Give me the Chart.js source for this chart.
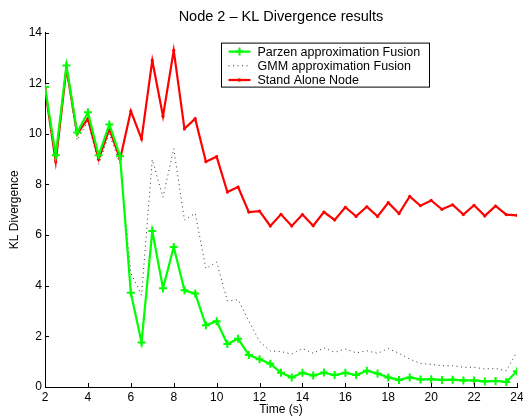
<!DOCTYPE html>
<html>
<head>
<meta charset="utf-8">
<script src="https://cdn.jsdelivr.net/npm/chart.js@4"></script>
<style>
  html, body { margin: 0; padding: 0; background: #fff; }
  #wrap { width: 523px; height: 417px; }
</style>
</head>
<body>
<div id="wrap"><canvas id="chart-kl"></canvas></div>
<script>
const FONT = "'Liberation Sans', Arial, Helvetica, sans-serif";

// tempo (s)
const times = [2, 2.5, 3, 3.5, 4, 4.5, 5, 5.5, 6, 6.5, 7, 7.5, 8, 8.5, 9, 9.5, 10, 10.5, 11, 11.5,
  12, 12.5, 13, 13.5, 14, 14.5, 15, 15.5, 16, 16.5, 17, 17.5, 18, 18.5, 19, 19.5, 20, 20.5,
  21, 21.5, 22, 22.5, 23, 23.5, 24];

const parzen = [11.85, 9.15, 12.7, 10.05, 10.85, 9.15, 10.37, 9.12, 3.72, 1.76, 6.16, 3.9, 5.53, 3.82, 3.69, 2.44, 2.6, 1.7, 1.91, 1.26,
  1.1, 0.92, 0.56, 0.38, 0.56, 0.45, 0.57, 0.47, 0.56, 0.47, 0.64, 0.53, 0.38, 0.28, 0.38, 0.3, 0.31, 0.28,
  0.29, 0.26, 0.26, 0.22, 0.24, 0.2, 0.62];

const gmm = [11.7, 8.95, 12.5, 9.75, 10.5, 8.8, 10.0, 8.8, 4.5, 3.63, 8.98, 7.5, 9.41, 6.6, 6.86, 4.68, 4.94, 3.4, 3.45, 2.6,
  1.8, 1.42, 1.4, 1.3, 1.52, 1.33, 1.55, 1.37, 1.5, 1.35, 1.43, 1.33, 1.52, 1.33, 1.1, 0.93, 0.89, 0.84,
  0.84, 0.78, 0.78, 0.71, 0.73, 0.64, 1.39];

const standAlone = [11.8, 8.9, 12.6, 10.0, 10.6, 9.0, 10.2, 9.0, 10.9, 9.8, 12.9, 10.7, 13.3, 10.2, 10.6, 8.9, 9.1, 7.7, 7.9, 6.91,
  6.95, 6.36, 6.82, 6.36, 6.81, 6.37, 6.91, 6.6, 7.1, 6.74, 7.12, 6.74, 7.28, 6.85, 7.53, 7.16, 7.37, 7.02,
  7.2, 6.81, 7.18, 6.76, 7.15, 6.81, 6.78];

const xTicks = [2, 4, 6, 8, 10, 12, 14, 16, 18, 20, 22, 24];
const yTicks = [0, 2, 4, 6, 8, 10, 12, 14];

const legendLabels = ['Parzen approximation Fusion', 'GMM approximation Fusion', 'Stand Alone Node'];

const pts = arr => arr.map((v, i) => ({ x: times[i], y: v }));

// ticks para dentro, estilo MATLAB
const inwardTicks = {
  id: 'inwardTicks',
  afterDatasetsDraw(chart) {
    const { ctx, chartArea: ca, scales: { x, y } } = chart;
    ctx.save();
    ctx.strokeStyle = '#000';
    ctx.lineWidth = 1;
    ctx.beginPath();
    xTicks.forEach(t => {
      const px = Math.round(x.getPixelForValue(t)) + 0.5;
      ctx.moveTo(px, ca.bottom);
      ctx.lineTo(px, ca.bottom - 4);
    });
    yTicks.forEach(t => {
      const py = Math.round(y.getPixelForValue(t)) + 0.5;
      ctx.moveTo(ca.left, py);
      ctx.lineTo(ca.left + 4, py);
    });
    ctx.stroke();
    ctx.restore();
  }
};

// legenda com caixa dentro do gráfico
const boxLegend = {
  id: 'boxLegend',
  afterDraw(chart) {
    const { ctx, chartArea: ca } = chart;
    const left = ca.left + 176.5, top = ca.top + 10.5, w = 208, h = 44;
    ctx.save();
    ctx.fillStyle = '#fff';
    ctx.fillRect(left, top, w, h);
    ctx.strokeStyle = '#000';
    ctx.lineWidth = 1;
    ctx.strokeRect(left, top, w, h);
    ctx.font = '12.5px ' + FONT;
    ctx.textBaseline = 'middle';
    ctx.fillStyle = '#000';
    chart.data.datasets.forEach((ds, i) => {
      const yy = top + 8.5 + i * 14.2;
      const x0 = left + 7, x1 = left + 29;
      ctx.save();
      ctx.strokeStyle = ds.borderColor;
      ctx.lineWidth = ds.borderWidth;
      ctx.setLineDash(ds.borderDash || []);
      ctx.beginPath();
      ctx.moveTo(x0, yy);
      ctx.lineTo(x1, yy);
      ctx.stroke();
      ctx.setLineDash([]);
      const cx = (x0 + x1) / 2;
      if (ds.pointStyle === 'cross') {
        ctx.lineWidth = 2;
        ctx.beginPath();
        ctx.moveTo(cx - 4, yy); ctx.lineTo(cx + 4, yy);
        ctx.moveTo(cx, yy - 4); ctx.lineTo(cx, yy + 4);
        ctx.stroke();
      } else if (ds.pointRadius > 0) {
        ctx.fillStyle = ds.borderColor;
        ctx.beginPath();
        ctx.arc(cx, yy, 1.8, 0, Math.PI * 2);
        ctx.fill();
      }
      ctx.restore();
      ctx.fillText(legendLabels[i], left + 36, yy + 0.5);
    });
    ctx.restore();
  }
};

const ctx = document.getElementById('chart-kl').getContext('2d');
new Chart(ctx, {
  type: 'line',
  data: {
    datasets: [
      { label: legendLabels[0], data: pts(parzen), borderColor: '#00ff00', backgroundColor: '#00ff00',
        borderWidth: 2.2, pointStyle: 'cross', pointRadius: 4, pointBorderWidth: 2, tension: 0 },
      { label: legendLabels[1], data: pts(gmm), borderColor: '#333', borderWidth: 1,
        borderDash: [1, 3.5], pointRadius: 0, tension: 0 },
      { label: legendLabels[2], data: pts(standAlone), borderColor: '#ff0000', backgroundColor: '#ff0000',
        borderWidth: 2.2, pointStyle: 'circle', pointRadius: 1.6, pointBorderWidth: 0, tension: 0 }
    ]
  },
  options: {
    responsive: true,
    maintainAspectRatio: false,
    animation: false,
    events: [],
    layout: { padding: { top: 0, right: 4, bottom: 0, left: 0 } },
    plugins: {
      legend: { display: false },
      tooltip: { enabled: false },
      title: {
        display: true, fullSize: false,
        text: 'Node 2 – KL Divergence results',
        color: '#000',
        font: { family: FONT, size: 14.5, weight: 'normal' },
        padding: { top: 8.2, bottom: 7 }
      }
    },
    scales: {
      x: {
        type: 'linear', min: 2, max: 24,
        afterBuildTicks: s => { s.ticks = xTicks.map(v => ({ value: v })); },
        afterFit: s => { s.height = 30; s.paddingLeft = 0; s.paddingRight = 0; },
        grid: { display: false, drawTicks: false },
        border: { display: true, color: '#000', width: 1 },
        ticks: { color: '#000', padding: 3, maxRotation: 0, font: { family: FONT, size: 12 } },
        title: { display: true, text: 'Time (s)', color: '#000', padding: { top: 0, bottom: 0 },
          font: { family: FONT, size: 12 } }
      },
      y: {
        min: 0, max: 14,
        afterBuildTicks: s => { s.ticks = yTicks.map(v => ({ value: v })); },
        afterFit: s => { s.width = 45; s.paddingTop = 0; s.paddingBottom = 0; },
        grid: { display: false, drawTicks: false },
        border: { display: true, color: '#000', width: 1 },
        ticks: { color: '#000', padding: 3, font: { family: FONT, size: 12 } },
        title: { display: true, text: 'KL Divergence', color: '#000', padding: { top: 7, bottom: 0 },
          font: { family: FONT, size: 12 } }
      }
    }
  },
  plugins: [inwardTicks, boxLegend]
});
</script>
</body>
</html>
